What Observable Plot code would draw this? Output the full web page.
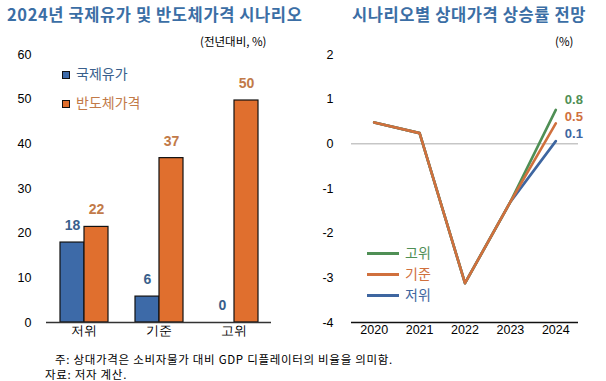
<!DOCTYPE html>
<html><head><meta charset="utf-8">
<script src="https://cdn.jsdelivr.net/npm/d3@7"></script>
<script src="https://cdn.jsdelivr.net/npm/@observablehq/plot@0.6"></script>
<style>
body{margin:0;background:#fff;font-family:"Noto Sans CJK KR",sans-serif;}
#wrap{position:relative;width:606px;height:381px;overflow:hidden;}
.abs{position:absolute;white-space:nowrap;line-height:1;}
.title{font-size:16.5px;font-weight:bold;color:#3b6ea5;letter-spacing:0.6px;}
.unit{font-size:11.5px;color:#000;}
.foot{font-size:11.5px;color:#000;letter-spacing:0.7px;}
.leg{font-size:14px;}
svg text{font-family:"Liberation Sans",Arial,sans-serif;}
</style></head>
<body><div id="wrap">
<div id="left" class="abs" style="left:0;top:0"></div>
<div id="right" class="abs" style="left:300px;top:0"></div>
<div class="abs title" style="left:7px;top:6px">2024년 국제유가 및 반도체가격 시나리오</div>
<div class="abs title" style="left:352px;top:6px">시나리오별 상대가격 상승률 전망</div>
<div class="abs unit" style="left:200px;top:36px">(전년대비, %)</div>
<div class="abs unit" style="left:555px;top:36px">(%)</div>
<div class="abs foot" style="left:55px;top:354px">주: 상대가격은 소비자물가 대비 GDP 디플레이터의 비율을 의미함.</div>
<div class="abs foot" style="left:45px;top:369px">자료: 저자 계산.</div>
<div id="legL"></div>
<div id="legR"></div>
</div>
<script>
// Left chart data
const categories = ["저위", "기준", "고위"];
const seriesNames = ["국제유가", "반도체가격"];
const oilValues = [17.9, 5.8, 0];
const chipValues = [21.4, 36.8, 49.7];
const oilLabels = ["18", "6", "0"];
const chipLabels = ["22", "37", "50"];
const leftTicks = [0, 10, 20, 30, 40, 50, 60];

// Right chart data
const years = [2020, 2021, 2022, 2023, 2024];
const scenarioNames = ["고위", "기준", "저위"];
const highValues = [0.48, 0.24, -3.12, -1.3, 0.76];
const baseValues = [0.48, 0.24, -3.12, -1.3, 0.46];
const lowValues = [0.48, 0.24, -3.12, -1.3, 0.06];
const endLabels = ["0.8", "0.5", "0.1"];
const rightTicks = [-4, -3, -2, -1, 0, 1, 2];

const barColors = {"국제유가": "#3d6aa8", "반도체가격": "#e06f2e"};
const barLabelColors = {"국제유가": "#3a5f8c", "반도체가격": "#c27a48"};
const lineColors = {"고위": "#4f8f55", "기준": "#d0703d", "저위": "#3e66a0"};

const bars = [];
categories.forEach((c, i) => {
  bars.push({cat: c, series: seriesNames[0], value: oilValues[i], label: oilLabels[i]});
  bars.push({cat: c, series: seriesNames[1], value: chipValues[i], label: chipLabels[i]});
});

const left = Plot.plot({
  width: 300, height: 340,
  marginTop: 54, marginBottom: 18, marginLeft: 45, marginRight: 28,
  style: {fontSize: "12.5px", background: "transparent", color: "#000"},
  fx: {domain: categories, padding: 0, label: null, axis: "bottom", tickSize: 0, tickPadding: 4},
  x: {domain: seriesNames, paddingInner: 0, paddingOuter: 0.51, axis: null},
  y: {domain: [0, 60], ticks: leftTicks, tickSize: 0, tickPadding: 15, label: null},
  marks: [
    Plot.barY(bars, {fx: "cat", x: "series", y: "value", fill: d => barColors[d.series], stroke: "#111", strokeWidth: 1.2}),
    Plot.ruleY([0], {stroke: "#333", strokeWidth: 1.5}),
    Plot.text(bars, {fx: "cat", x: "series", y: "value", text: "label", dy: -17, fill: d => barLabelColors[d.series], fontWeight: "bold", fontSize: 14})
  ]
});
document.getElementById("left").appendChild(left);

const lines = [];
years.forEach((y, i) => {
  lines.push({year: y, s: "저위", v: lowValues[i]});
  lines.push({year: y, s: "고위", v: highValues[i]});
  lines.push({year: y, s: "기준", v: baseValues[i]});
});
const ends = [
  {s: "고위", v: highValues[4], label: endLabels[0]},
  {s: "기준", v: baseValues[4], label: endLabels[1]},
  {s: "저위", v: lowValues[4], label: endLabels[2]}
];
const endOffsets = {"고위": -10, "기준": -6, "저위": -7};

const right = Plot.plot({
  width: 306, height: 340,
  marginTop: 54, marginBottom: 18, marginLeft: 51, marginRight: 28,
  style: {fontSize: "12.5px", background: "transparent", color: "#000"},
  x: {domain: [2019.5, 2024.5], ticks: years, tickFormat: d => String(d), tickSize: 0, tickPadding: 3, label: null},
  y: {domain: [-4, 2], ticks: rightTicks, tickFormat: d => String(d), tickSize: 0, tickPadding: 18, label: null},
  marks: [
    Plot.ruleY([0], {stroke: "#aaa", strokeWidth: 1}),
    Plot.ruleY([-4], {stroke: "#111", strokeWidth: 1.5}),
    Plot.line(lines, {x: "year", y: "v", z: "s", stroke: d => lineColors[d.s], strokeWidth: 2.6}),
    ...ends.map(e => Plot.text([e], {x: () => 2024, y: "v", text: "label", fill: lineColors[e.s], dx: 9, dy: endOffsets[e.s], textAnchor: "start", fontWeight: "bold", fontSize: 13}))
  ]
});
document.getElementById("right").appendChild(right);

// Legends
const legL = document.getElementById("legL");
seriesNames.forEach((n, i) => {
  const top = 68 + i * 29;
  legL.insertAdjacentHTML("beforeend",
    `<div class="abs" style="left:62px;top:${top+3}px;width:6px;height:6px;background:${barColors[n]};border:1px solid #111"></div>` +
    `<div class="abs leg" style="left:76px;top:${top-2}px;color:${barLabelColors[n]}">${n}</div>`);
});
const legR = document.getElementById("legR");
scenarioNames.forEach((n, i) => {
  const top = 253 + i * 21;
  legR.insertAdjacentHTML("beforeend",
    `<div class="abs" style="left:367px;top:${top-1}px;width:32px;height:3px;background:${lineColors[n]}"></div>` +
    `<div class="abs leg" style="left:405px;top:${top-8}px;color:${lineColors[n]}">${n}</div>`);
});
</script>
</body></html>
